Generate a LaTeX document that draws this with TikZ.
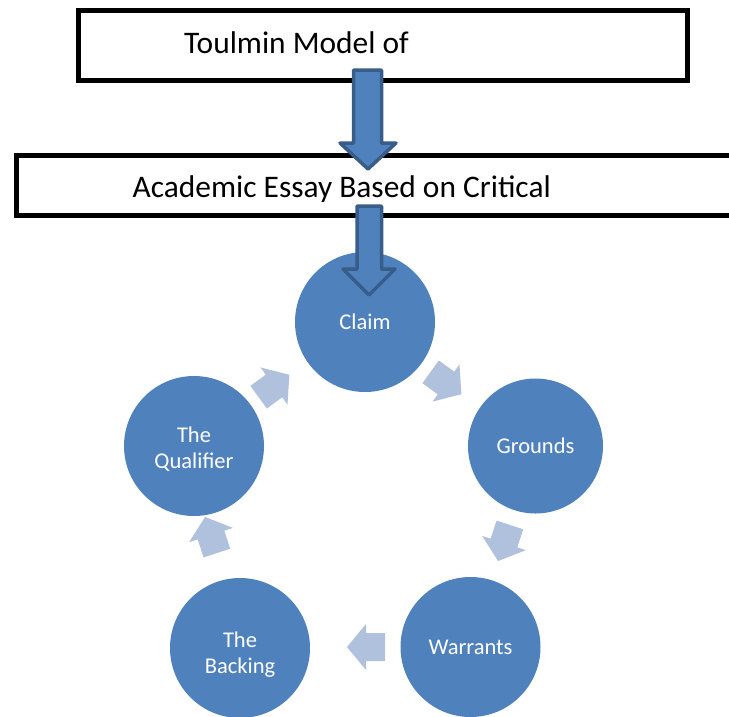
\documentclass[tikz,border=0pt]{standalone}
\usepackage{fontspec}
\setmainfont{Carlito}
\definecolor{circblue}{HTML}{4F81BD}
\definecolor{arrowline}{HTML}{385D8A}
\definecolor{lightarrow}{HTML}{B0C1DD}
\begin{document}
\begin{tikzpicture}[x=1pt,y=-1pt,
  boxstyle/.style={draw=black, line width=5pt, inner sep=0pt},
  bigtext/.style={font=\fontsize{31.4}{36}\selectfont, inner sep=0pt, anchor=base west},
  cyc/.style={circle, fill=circblue, text=white, inner sep=0pt, minimum size=140pt, align=center, font=\fontsize{22.5}{26}\selectfont},
  cyctext/.style={text=white, inner sep=0pt, align=center, font=\fontsize{22.5}{26}\selectfont},
  bigarrow/.style={fill=circblue, draw=arrowline, line width=3.5pt, line join=round},
  cycarrow/.pic={\fill[lightarrow] (-19,-14) -- (0,-14) -- (0,-23) -- (19,0) -- (0,23) -- (0,14) -- (-19,14) -- cycle;}]
\useasboundingbox (0,0) rectangle (729,716);
\begin{scope}
\clip (0,0) rectangle (729,716);
\node[boxstyle, minimum width=609pt, minimum height=70pt] (top) at (383,45.5) {};
\node[boxstyle, minimum width=728.5pt, minimum height=59.5pt] (essay) at (380.75,185.25) {};
\node[bigtext] (toptext) at (184,53) {Toulmin Model of};
\node[bigtext] (essaytext) at (132.5,197) {Academic Essay Based on Critical};
\draw[bigarrow] (353.5,70) -- (381.5,70) -- (381.5,143) -- (396,143) -- (368,169) -- (340,143) -- (353.5,143) -- cycle;
\node[cyc] (claim) at (365,322) {Claim};
\node[cyc, minimum size=135pt] (grounds) at (535.5,446) {Grounds};
\node[cyc] (warrants) at (470.5,647) {Warrants};
\node[cyc] (backing) at (240,648) {};
\node[cyctext] (backingtext) at (240,655) {The\\Backing};
\node[cyc] (qualifier) at (194,446) {};
\node[cyctext] (qualifiertext) at (194,449.5) {The\\Qualifier};
\draw[bigarrow] (357,206) -- (381.5,206) -- (381.5,269) -- (395,269) -- (369,295) -- (343,269) -- (357,269) -- cycle;
\pic[rotate=-36] at (446,383) {cycarrow};
\pic[rotate=-108] at (504,543) {cycarrow};
\pic[rotate=180] at (366,647) {cycarrow};
\pic[rotate=108] at (211,535) {cycarrow};
\pic[rotate=36] at (274,386) {cycarrow};
\end{scope}
\end{tikzpicture}
\end{document}
